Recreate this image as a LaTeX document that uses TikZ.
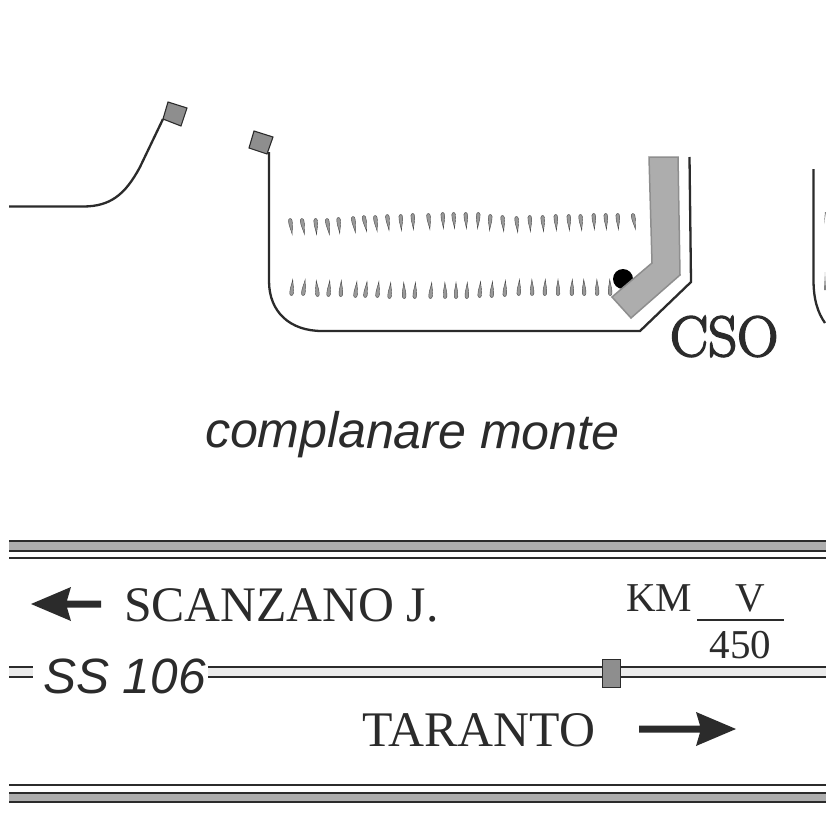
\documentclass[tikz,border=0pt]{standalone}
\usepackage{fontspec}
\newfontfamily\serifF{Liberation Serif}
\newfontfamily\sansF{Liberation Sans}
\newfontfamily\csoF[FakeBold=3]{Latin Modern Roman}
\definecolor{ink}{HTML}{2B2B2B}
\definecolor{bandgrey}{HTML}{ADADAD}
\definecolor{markgrey}{HTML}{8E8E8E}
\definecolor{pale}{HTML}{EBEBEB}
\tikzset{
  lbl/.style={inner sep=0pt,outer sep=0pt,text=ink,anchor=base west},
  edge/.style={draw=ink,line width=2.3pt},
  thin edge/.style={draw=ink,line width=2pt},
  post/.style={draw=ink,fill=markgrey,line width=1.1pt},
  tree/.style={fill=gray!80,draw=gray!55!black,line width=.4pt}
}
\newcommand{\treeup}[3]{%
  \path[tree,shift={(#1,#2)},rotate=#3] (0,-8.5) .. controls (.5,-4) and (2.2,1) .. (1.8,5.5) .. controls (1.5,8.2) and (-1.5,8.2) .. (-1.8,5.5) .. controls (-2.2,1) and (-.5,-4) .. (0,-8.5) -- cycle;}
\newcommand{\treedown}[3]{%
  \path[tree,shift={(#1,#2)},rotate=#3] (0,8.5) .. controls (.5,4) and (2.2,-1) .. (1.8,-5.5) .. controls (1.5,-8.2) and (-1.5,-8.2) .. (-1.8,-5.5) .. controls (-2.2,-1) and (-.5,4) .. (0,8.5) -- cycle;}
\begin{document}
\begin{tikzpicture}[x=1pt,y=-1pt]
\useasboundingbox (0,0) rectangle (835,832);
\fill[white] (0,0) rectangle (835,832);

% top-row plants
\foreach \px/\py/\pa in {291/226/8,303/226/10,316/226/4,328/226/9,339/225/5,354/224/9,365/223/11,376/223/8,388/222/7,401/222/3,413/221/3,429/221/6,443/220/3,454/220/4,466/220/3,478/220/-3,490/222/-3,503/223/5,517/224/5,530/223/3,543/223/4,556/222/3,569/222/3,581/222/5,594/221/3,606/221/3,618/221/3,634/221/10}{\treedown{\px}{\py}{\pa}}
% bottom-row plants
\foreach \px/\py/\pa in {292/288/-5,304/288/-8,317/289/5,329/289/-5,341/289/-2,356/290/-6,366/290/-7,378/290/-6,390/291/-5,404/291/2,415/291/-3,431/291/-5,445/291/1,456/291/0,467/291/-2,480/290/-4,492/290/-3,505/289/-3,519/288/-3,532/288/1,545/288/-2,558/288/0,572/288/-2,584/288/2,597/288/1,610/288/2}{\treeup{\px}{\py}{\pa}}

% kerb lines
\draw[edge] (9,206.5) -- (83,206.5) .. controls (110,206.5) and (125,195) .. (140,167) -- (163,119);
\draw[edge] (269,152) -- (269,281) .. controls (269,312) and (290,331) .. (322,331) -- (640,331) -- (691,282) -- (689.5,157);
\draw[edge] (813.5,169) -- (813.5,280) .. controls (813.5,300) and (818,313) .. (825,323);
\path[tree,draw=none,fill=gray] (825,212) -- (826,212) -- (824,224) -- cycle;
\path[tree,draw=none,fill=gray] (825,272) -- (826,290) -- (824,290) -- cycle;

% posts
\path[post] (168,102) -- (187,108) -- (181,126) -- (163,119) -- cycle;
\path[post] (254,131) -- (273,137) -- (267,154) -- (249,148) -- cycle;

% CSO structure
\fill[black] (623,279) circle (10);
\path[fill=bandgrey,draw=markgrey,line width=1.5pt] (649,157) -- (678,157) -- (680,275) -- (631,318) -- (612,297) -- (652,263) -- cycle;

% roads
\fill[bandgrey] (9,541) rectangle (826,551);
\draw[thin edge] (9,541) -- (826,541) (9,551) -- (826,551) (9,558) -- (826,558);
\fill[bandgrey] (9,793) rectangle (826,802);
\draw[thin edge] (9,785) -- (826,785) (9,793) -- (826,793) (9,802) -- (826,802);
\fill[pale] (9,668) rectangle (33,677);
\draw[thin edge] (9,667) -- (33,667) (9,677) -- (33,677);
\fill[pale] (208,668) rectangle (826,677);
\draw[thin edge] (208,667) -- (826,667) (208,677) -- (826,677);
\path[post,line width=.8pt] (602,659.5) rectangle (620,687);

% arrows
\fill[ink] (31,604) -- (71,587) -- (67,600.5) -- (101,600.5) -- (101,607.5) -- (67,607.5) -- (71,621) -- cycle;
\fill[ink] (736,729) -- (696,712) -- (700,725.5) -- (639,725.5) -- (639,732.5) -- (700,732.5) -- (696,746) -- cycle;

% fraction bar
\draw[ink,line width=1.7pt] (697,620) -- (784,620);

% text
\node[lbl,font=\sansF\itshape\fontsize{50}{50}\selectfont,rotate=-.4] (monte) at (205,447) {complanare monte};
\node[lbl,font=\csoF\fontsize{57}{58}\selectfont] (cso) at (670,356) {CSO};
\node[lbl,font=\serifF\fontsize{49.7}{50}\selectfont] (scan) at (124,621) {SCANZANO J.};
\node[lbl,font=\sansF\itshape\fontsize{49.6}{50}\selectfont] (ss) at (43,693) {SS 106};
\node[lbl,font=\serifF\fontsize{49.8}{50}\selectfont] (tar) at (362,746) {TARANTO};
\node[lbl,font=\serifF\fontsize{41}{41}\selectfont] (km) at (626,611) {KM};
\node[lbl,font=\serifF\fontsize{41}{41}\selectfont,anchor=base] (v) at (750,611) {V};
\node[lbl,font=\serifF\fontsize{41}{41}\selectfont,anchor=base] (num) at (740.5,658) {450};
\end{tikzpicture}
\end{document}
